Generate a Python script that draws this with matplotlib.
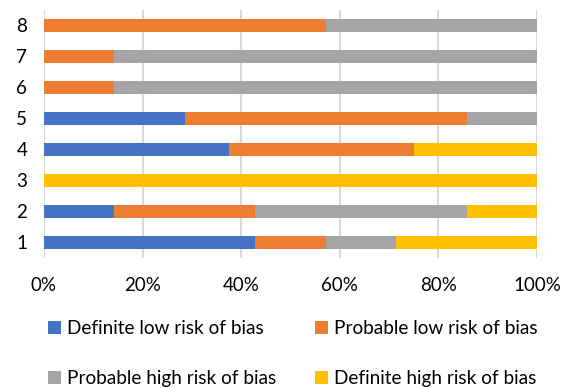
import matplotlib.pyplot as plt
import numpy as np

plt.rcParams['font.family'] = ['Lato', 'DejaVu Sans']

# number of studies per rating, for each item 1..8
items = ['1', '2', '3', '4', '5', '6', '7', '8']
def_low = [3, 1, 0, 3, 2, 0, 0, 0]
prob_low = [1, 2, 0, 3, 4, 1, 1, 4]
prob_high = [1, 3, 0, 0, 1, 6, 6, 3]
def_high = [2, 1, 7, 2, 0, 0, 0, 0]

labels = ['Definite low risk of bias', 'Probable low risk of bias',
          'Probable high risk of bias', 'Definite high risk of bias']
colors = ['#4472c4', '#ed7d31', '#a5a5a5', '#ffc000']

counts = np.array([def_low, prob_low, prob_high, def_high], dtype=float)
shares = counts / counts.sum(axis=0) * 100

fig = plt.figure(figsize=(5.7, 3.88), dpi=100)
ax = fig.add_axes([0.077, 0.335, 0.865, 0.64])

y = np.arange(1, len(items) + 1)
left = np.zeros(len(items))
bars = []
for share, col, lab in zip(shares, colors, labels):
    b = ax.barh(y, share, left=left, height=0.42, color=col, label=lab, zorder=3)
    bars.append(b)
    left += share

ax.set_xlim(0, 100)
ax.set_ylim(0.5, 8.5)
ax.set_xticks(np.arange(0, 101, 20))
ax.set_xticklabels([f'{v}%' for v in range(0, 101, 20)])
ax.set_yticks(y)
ax.set_yticklabels(items)
ax.tick_params(length=0, labelsize=13.5, colors='#000000')
ax.tick_params(axis='x', pad=14)
ax.tick_params(axis='y', pad=12)
ax.grid(axis='x', color='#d9d9d9', linewidth=1.5, zorder=0)
for s in ax.spines.values():
    s.set_visible(False)

order = [0, 2, 1, 3]
fig.legend([bars[i] for i in order], [labels[i] for i in order],
           ncol=2, loc='lower left', bbox_to_anchor=(0.055, -0.042),
           frameon=False, fontsize=13.7, handlelength=0.68, handleheight=0.68,
           handletextpad=0.3, columnspacing=2.05, labelspacing=1.72)

fig.savefig('out.png', dpi=100)
